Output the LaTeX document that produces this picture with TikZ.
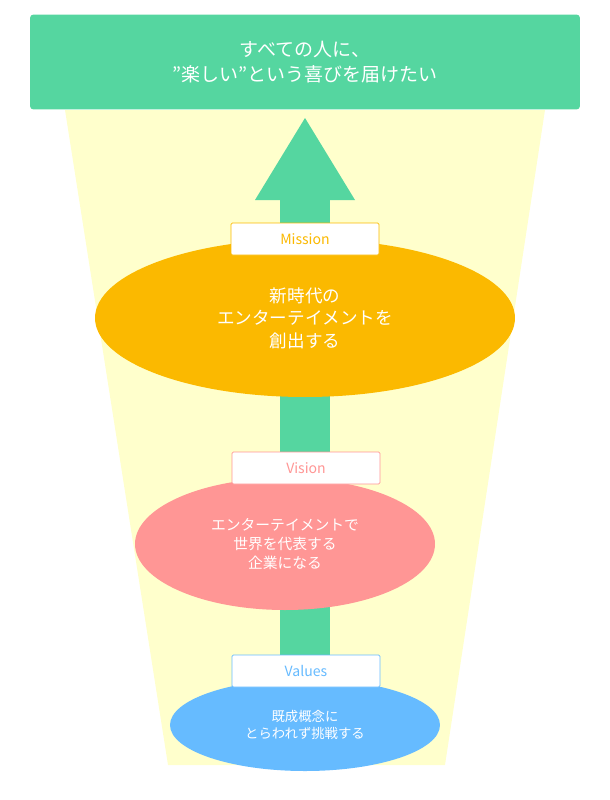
\documentclass[tikz,border=0pt]{standalone}
\usepackage{fontspec}
\setmainfont{Noto Sans CJK JP}
\usetikzlibrary{positioning, shapes.geometric}
\definecolor{topgreen}{HTML}{55D6A0}
\definecolor{mango}{HTML}{FBB900}
\definecolor{rose}{HTML}{FF9695}
\definecolor{sky}{HTML}{66BBFF}
\definecolor{funnel}{HTML}{FFFFCC}

\begin{document}
\begin{tikzpicture}[x=0.05cm, y=-0.05cm,
    tag/.style={draw=#1, fill=white, line width=1pt, text=#1, rounded corners=2pt,
      minimum width=7.4cm, minimum height=1.6cm, font=\fontsize{20}{22}\selectfont, inner sep=0pt},
    blob/.style={ellipse, fill=#1, text=white, align=center, inner sep=0pt},
    bigtext/.style={font=\fontsize{25}{32}\selectfont}
]
\useasboundingbox (0,0) rectangle (610,800);
% Funnel
\fill[funnel] (65,110) -- (545,110) -- (445,765) -- (168,765) -- cycle;
% Arrow
\fill[topgreen] (280,195) rectangle (330,690);
\fill[topgreen] (305,118) -- (355,200) -- (255,200) -- cycle;
% Top box
\node[fill=topgreen, rounded corners=5pt, minimum width=27.5cm, minimum height=4.75cm,
  text=white, align=center, font=\fontsize{27}{36}\selectfont] (goal) at (305,62)
  {すべての人に、\\”楽しい”という喜びを届けたい};
% Ellipses
\node[blob=mango, minimum width=21cm, minimum height=7.9cm, bigtext] (mission) at (305,318)
  {新時代の\\エンターテイメントを\\創出する};
\node[blob=rose, minimum width=15cm, minimum height=6.6cm,
  font=\fontsize{21}{27}\selectfont] (vision) at (285,544)
  {エンターテイメントで\\世界を代表する\\企業になる};
\node[blob=sky, minimum width=13.5cm, minimum height=4.6cm,
  font=\fontsize{19}{24}\selectfont] (values) at (305,725)
  {既成概念に\\とらわれず挑戦する};
% Labels
\node[tag=mango] (mtag) at (305,239) {Mission};
\node[tag=rose] (vtag) at (306,468) {Vision};
\node[tag=sky] (ltag) at (306,671) {Values};
\end{tikzpicture}
\end{document}
